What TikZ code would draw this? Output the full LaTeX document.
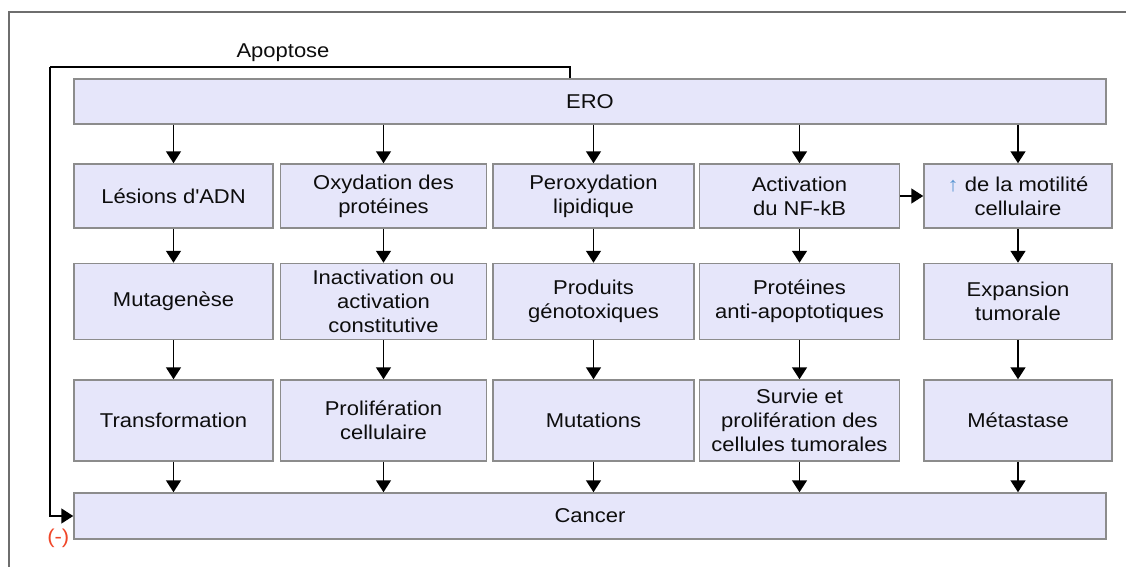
\documentclass[tikz,border=0pt]{standalone}
\usepackage{fontspec}
\setmainfont{Liberation Sans}[FakeStretch=1.1]
\usetikzlibrary{arrows.meta, positioning}
\definecolor{boxfill}{RGB}{230,230,250}
\definecolor{boxline}{RGB}{140,140,140}
\definecolor{framegray}{RGB}{110,110,110}
\definecolor{minusred}{RGB}{240,70,40}
\definecolor{upblue}{RGB}{90,150,210}

\begin{document}
\begin{tikzpicture}[x=1pt, y=1pt,
    every node/.style={font=\fontsize{20}{24}\selectfont, text=black!95},
    box/.style={draw=boxline, fill=boxfill, line width=1.5pt, rectangle, align=center, inner sep=0pt},
    col1/.style={box, minimum width=199pt},
    col2/.style={box, minimum width=206pt},
    col3/.style={box, minimum width=201pt},
    col4/.style={box, minimum width=200pt},
    col5/.style={box, minimum width=188pt},
    flow/.style={-{Triangle[width=15pt, length=12pt]}, line width=1.6pt}]
    \useasboundingbox (0,0) rectangle (1126,-567);
    \draw [framegray, line width=2pt] (9,-567) -- (9,-12) -- (1127,-12);

    \node (ero) [box, minimum width=1032pt, minimum height=45pt] at (590,-101.5) {ERO};

    \node (lesions) [col1, minimum height=64pt] at (173.5,-196) {Lésions d\textquotesingle ADN};
    \node (oxyd) [col2, minimum height=64pt, right=6pt of lesions] {Oxydation des\\protéines};
    \node (perox) [col3, minimum height=64pt, right=5pt of oxyd] {Peroxydation\\lipidique};
    \node (nfkb) [col4, minimum height=64pt, right=4pt of perox] {Activation\\du NF-kB};
    \node (motil) [col5, minimum height=64pt, right=23pt of nfkb] {{\color{upblue}↑} de la motilité\\cellulaire};

    \node (mutag) [col1, minimum height=76pt, below=34pt of lesions] {Mutagenèse};
    \node (inact) [col2, minimum height=76pt, below=34pt of oxyd] {Inactivation ou\\activation\\constitutive};
    \node (genot) [col3, minimum height=76pt, below=34pt of perox] {Produits\\génotoxiques};
    \node (antiap) [col4, minimum height=76pt, below=34pt of nfkb] {Protéines\\anti-apoptotiques};
    \node (expans) [col5, minimum height=76pt, below=34pt of motil] {Expansion\\tumorale};

    \node (transf) [col1, minimum height=81pt, below=39pt of mutag] {Transformation};
    \node (prolif) [col2, minimum height=81pt, below=39pt of inact] {Prolifération\\cellulaire};
    \node (mutat) [col3, minimum height=81pt, below=39pt of genot] {Mutations};
    \node (survie) [col4, minimum height=81pt, below=39pt of antiap] {Survie et\\prolifération des\\cellules tumorales};
    \node (metast) [col5, minimum height=81pt, below=39pt of expans] {Métastase};

    \node (cancer) [box, minimum width=1032pt, minimum height=46pt] at (590,-516) {Cancer};

    \draw [flow] (ero.south -| lesions.north) -- (lesions.north);
    \draw [flow] (ero.south -| oxyd.north) -- (oxyd.north);
    \draw [flow] (ero.south -| perox.north) -- (perox.north);
    \draw [flow] (ero.south -| nfkb.north) -- (nfkb.north);
    \draw [flow] (ero.south -| motil.north) -- (motil.north);
    \draw [flow] (nfkb.east) -- (motil.west);

    \draw [flow] (lesions) -- (mutag);
    \draw [flow] (oxyd) -- (inact);
    \draw [flow] (perox) -- (genot);
    \draw [flow] (nfkb) -- (antiap);
    \draw [flow] (motil) -- (expans);

    \draw [flow] (mutag) -- (transf);
    \draw [flow] (inact) -- (prolif);
    \draw [flow] (genot) -- (mutat);
    \draw [flow] (antiap) -- (survie);
    \draw [flow] (expans) -- (metast);

    \draw [flow] (transf.south) -- (transf.south |- cancer.north);
    \draw [flow] (prolif.south) -- (prolif.south |- cancer.north);
    \draw [flow] (mutat.south) -- (mutat.south |- cancer.north);
    \draw [flow] (survie.south) -- (survie.south |- cancer.north);
    \draw [flow] (metast.south) -- (metast.south |- cancer.north);

    \coordinate (apoturn) at (50,-67);
    \draw [line width=1.6pt] ([xshift=-20pt]ero.north) |- (apoturn);
    \draw [flow] (apoturn) |- (cancer.west);
    \node (apoptose) at (283,-53) {Apoptose};
    \node (minus) [text=minusred] at ([xshift=-15pt, yshift=-22pt]cancer.west) {(-)};
\end{tikzpicture}
\end{document}
